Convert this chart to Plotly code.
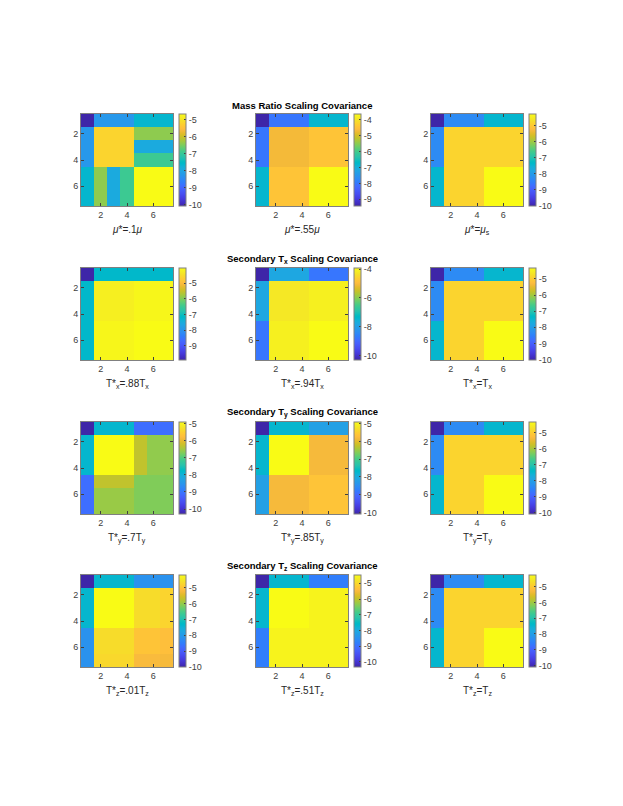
import plotly.graph_objects as go

# log10 covariance matrices, 7x7 state index, one per scaling case
idx = [1, 2, 3, 4, 5, 6, 7]

mu_01 = [
    [-10.06, -8.25, -8.25, -8.25, -7.63, -7.63, -7.63],
    [-8.25, -5.21, -5.21, -5.21, -6.39, -6.39, -6.39],
    [-8.25, -5.21, -5.21, -5.21, -7.90, -7.90, -7.90],
    [-8.25, -5.21, -5.21, -5.21, -6.93, -6.93, -6.93],
    [-7.63, -6.39, -7.90, -6.93, -4.67, -4.67, -4.67],
    [-7.63, -6.39, -7.90, -6.93, -4.67, -4.67, -4.67],
    [-7.63, -6.39, -7.90, -6.93, -4.67, -4.67, -4.67],
]
mu_055 = [
    [-9.42, -8.03, -8.03, -8.03, -6.82, -6.82, -6.82],
    [-8.03, -4.70, -4.70, -4.70, -4.45, -4.45, -4.45],
    [-8.03, -4.70, -4.70, -4.70, -4.45, -4.45, -4.45],
    [-8.03, -4.70, -4.70, -4.70, -4.45, -4.45, -4.45],
    [-6.82, -4.45, -4.45, -4.45, -3.64, -3.64, -3.64],
    [-6.82, -4.45, -4.45, -4.45, -3.64, -3.64, -3.64],
    [-6.82, -4.45, -4.45, -4.45, -3.64, -3.64, -3.64],
]
mu_s = [
    [-10.04, -8.33, -8.33, -8.33, -7.45, -7.45, -7.45],
    [-8.33, -4.87, -4.87, -4.87, -4.87, -4.87, -4.87],
    [-8.33, -4.87, -4.87, -4.87, -4.87, -4.87, -4.87],
    [-8.33, -4.87, -4.87, -4.87, -4.87, -4.87, -4.87],
    [-7.45, -4.87, -4.87, -4.87, -4.29, -4.29, -4.29],
    [-7.45, -4.87, -4.87, -4.87, -4.29, -4.29, -4.29],
    [-7.45, -4.87, -4.87, -4.87, -4.29, -4.29, -4.29],
]
tx_088 = [
    [-9.91, -7.20, -7.20, -7.20, -7.20, -7.20, -7.20],
    [-7.20, -4.20, -4.20, -4.20, -4.10, -4.10, -4.10],
    [-7.20, -4.20, -4.20, -4.20, -4.10, -4.10, -4.10],
    [-7.20, -4.20, -4.20, -4.20, -4.10, -4.10, -4.10],
    [-7.20, -4.10, -4.10, -4.10, -4.02, -4.02, -4.02],
    [-7.20, -4.10, -4.10, -4.10, -4.02, -4.02, -4.02],
    [-7.20, -4.10, -4.10, -4.10, -4.02, -4.02, -4.02],
]
tx_094 = [
    [-10.28, -7.80, -7.80, -7.80, -8.75, -8.75, -8.75],
    [-7.80, -4.25, -4.25, -4.25, -4.12, -4.12, -4.12],
    [-7.80, -4.25, -4.25, -4.25, -4.12, -4.12, -4.12],
    [-7.80, -4.25, -4.25, -4.25, -4.12, -4.12, -4.12],
    [-8.75, -4.12, -4.12, -4.12, -3.93, -3.93, -3.93],
    [-8.75, -4.12, -4.12, -4.12, -3.93, -3.93, -3.93],
    [-8.75, -4.12, -4.12, -4.12, -3.93, -3.93, -3.93],
]
tx_1 = [
    [-10.02, -8.33, -8.33, -8.33, -7.46, -7.46, -7.46],
    [-8.33, -4.90, -4.90, -4.90, -4.90, -4.90, -4.90],
    [-8.33, -4.90, -4.90, -4.90, -4.90, -4.90, -4.90],
    [-8.33, -4.90, -4.90, -4.90, -4.90, -4.90, -4.90],
    [-7.46, -4.90, -4.90, -4.90, -4.33, -4.33, -4.33],
    [-7.46, -4.90, -4.90, -4.90, -4.33, -4.33, -4.33],
    [-7.46, -4.90, -4.90, -4.90, -4.33, -4.33, -4.33],
]
ty_07 = [
    [-10.29, -7.86, -7.86, -7.86, -9.10, -9.10, -9.10],
    [-7.86, -4.90, -4.90, -4.90, -6.30, -6.60, -6.60],
    [-7.86, -4.90, -4.90, -4.90, -6.30, -6.60, -6.60],
    [-7.86, -4.90, -4.90, -4.90, -6.30, -6.60, -6.60],
    [-9.10, -6.30, -6.30, -6.30, -6.70, -6.70, -6.70],
    [-9.10, -6.55, -6.55, -6.55, -6.70, -6.70, -6.70],
    [-9.10, -6.55, -6.55, -6.55, -6.70, -6.70, -6.70],
]
ty_085 = [
    [-10.09, -7.76, -7.76, -7.76, -8.20, -8.20, -8.20],
    [-7.76, -4.91, -4.91, -4.91, -5.84, -5.84, -5.84],
    [-7.76, -4.91, -4.91, -4.91, -5.84, -5.84, -5.84],
    [-7.76, -4.91, -4.91, -4.91, -5.84, -5.84, -5.84],
    [-8.20, -5.84, -5.84, -5.84, -5.64, -5.64, -5.64],
    [-8.20, -5.84, -5.84, -5.84, -5.64, -5.64, -5.64],
    [-8.20, -5.84, -5.84, -5.84, -5.64, -5.64, -5.64],
]
ty_1 = [
    [-10.10, -8.38, -8.38, -8.38, -7.50, -7.50, -7.50],
    [-8.38, -4.91, -4.91, -4.91, -4.91, -4.91, -4.91],
    [-8.38, -4.91, -4.91, -4.91, -4.91, -4.91, -4.91],
    [-8.38, -4.91, -4.91, -4.91, -4.91, -4.91, -4.91],
    [-7.50, -4.91, -4.91, -4.91, -4.33, -4.33, -4.33],
    [-7.50, -4.91, -4.91, -4.91, -4.33, -4.33, -4.33],
    [-7.50, -4.91, -4.91, -4.91, -4.33, -4.33, -4.33],
]
tz_001 = [
    [-10.00, -7.39, -7.39, -7.39, -8.14, -8.14, -8.14],
    [-7.39, -4.20, -4.20, -4.20, -4.66, -4.66, -4.78],
    [-7.39, -4.20, -4.20, -4.20, -4.66, -4.66, -4.78],
    [-7.39, -4.20, -4.20, -4.20, -4.66, -4.66, -4.78],
    [-8.14, -4.66, -4.66, -4.66, -5.01, -5.01, -5.10],
    [-8.14, -4.66, -4.66, -4.66, -5.01, -5.01, -5.10],
    [-8.14, -4.72, -4.72, -4.72, -5.19, -5.19, -5.24],
]
tz_051 = [
    [-10.32, -7.69, -7.69, -7.69, -8.80, -8.80, -8.80],
    [-7.69, -4.47, -4.47, -4.47, -4.59, -4.59, -4.59],
    [-7.69, -4.47, -4.47, -4.47, -4.59, -4.59, -4.59],
    [-7.69, -4.47, -4.47, -4.47, -4.59, -4.59, -4.59],
    [-8.80, -4.59, -4.59, -4.59, -4.59, -4.59, -4.59],
    [-8.80, -4.59, -4.59, -4.59, -4.59, -4.59, -4.59],
    [-8.80, -4.59, -4.59, -4.59, -4.59, -4.59, -4.59],
]
tz_1 = [
    [-10.10, -8.36, -8.36, -8.36, -7.47, -7.47, -7.47],
    [-8.36, -4.84, -4.84, -4.84, -4.84, -4.84, -4.84],
    [-8.36, -4.84, -4.84, -4.84, -4.84, -4.84, -4.84],
    [-8.36, -4.84, -4.84, -4.84, -4.84, -4.84, -4.84],
    [-7.47, -4.84, -4.84, -4.84, -4.26, -4.26, -4.26],
    [-7.47, -4.84, -4.84, -4.84, -4.26, -4.26, -4.26],
    [-7.47, -4.84, -4.84, -4.84, -4.26, -4.26, -4.26],
]

matrices = [mu_01, mu_055, mu_s,
            tx_088, tx_094, tx_1,
            ty_07, ty_085, ty_1,
            tz_001, tz_051, tz_1]

xlabels = ["<i>μ</i>*=.1<i>μ</i>", "<i>μ</i>*=.55<i>μ</i>", "<i>μ</i>*=<i>μ</i><sub>s</sub>",
           "T*<sub>x</sub>=.88T<sub>x</sub>", "T*<sub>x</sub>=.94T<sub>x</sub>", "T*<sub>x</sub>=T<sub>x</sub>",
           "T*<sub>y</sub>=.7T<sub>y</sub>", "T*<sub>y</sub>=.85T<sub>y</sub>", "T*<sub>y</sub>=T<sub>y</sub>",
           "T*<sub>z</sub>=.01T<sub>z</sub>", "T*<sub>z</sub>=.51T<sub>z</sub>", "T*<sub>z</sub>=T<sub>z</sub>"]

row_titles = ["Mass Ratio Scaling Covariance",
              "Secondary T<sub>x</sub> Scaling Covariance",
              "Secondary T<sub>y</sub> Scaling Covariance",
              "Secondary T<sub>z</sub> Scaling Covariance"]

# colorbar tick labels per panel
cbar_ticks = [
    [-10, -9, -8, -7, -6, -5], [-9, -8, -7, -6, -5, -4], [-10, -9, -8, -7, -6, -5],
    [-9, -8, -7, -6, -5], [-10, -8, -6, -4], [-10, -9, -8, -7, -6, -5],
    [-10, -9, -8, -7, -6, -5], [-10, -9, -8, -7, -6, -5], [-10, -9, -8, -7, -6, -5],
    [-10, -9, -8, -7, -6, -5], [-10, -9, -8, -7, -6, -5], [-10, -9, -8, -7, -6, -5],
]
axis_ticks = [2, 4, 6]

# MATLAB parula, 64 entries
parula_rgb = [
    (0.2422, 0.1504, 0.6603), (0.2504, 0.1650, 0.7076), (0.2578, 0.1818, 0.7511), (0.2647, 0.1978, 0.7952),
    (0.2706, 0.2147, 0.8364), (0.2751, 0.2342, 0.8710), (0.2783, 0.2559, 0.8991), (0.2803, 0.2782, 0.9221),
    (0.2813, 0.3006, 0.9414), (0.2810, 0.3228, 0.9579), (0.2795, 0.3447, 0.9717), (0.2760, 0.3667, 0.9829),
    (0.2699, 0.3892, 0.9906), (0.2602, 0.4123, 0.9952), (0.2440, 0.4358, 0.9988), (0.2206, 0.4603, 0.9973),
    (0.1963, 0.4847, 0.9892), (0.1834, 0.5074, 0.9798), (0.1786, 0.5289, 0.9682), (0.1764, 0.5499, 0.9520),
    (0.1687, 0.5703, 0.9359), (0.1540, 0.5902, 0.9218), (0.1460, 0.6091, 0.9079), (0.1380, 0.6276, 0.8973),
    (0.1248, 0.6459, 0.8883), (0.1113, 0.6635, 0.8763), (0.0952, 0.6798, 0.8598), (0.0689, 0.6948, 0.8394),
    (0.0297, 0.7082, 0.8163), (0.0036, 0.7203, 0.7917), (0.0067, 0.7312, 0.7660), (0.0433, 0.7411, 0.7394),
    (0.0964, 0.7500, 0.7120), (0.1408, 0.7584, 0.6842), (0.1717, 0.7670, 0.6554), (0.1938, 0.7758, 0.6251),
    (0.2161, 0.7843, 0.5923), (0.2470, 0.7918, 0.5567), (0.2906, 0.7973, 0.5188), (0.3406, 0.8008, 0.4789),
    (0.3909, 0.8029, 0.4354), (0.4456, 0.8024, 0.3909), (0.5044, 0.7993, 0.3480), (0.5616, 0.7942, 0.3045),
    (0.6174, 0.7876, 0.2612), (0.6720, 0.7793, 0.2227), (0.7242, 0.7698, 0.1910), (0.7738, 0.7598, 0.1646),
    (0.8203, 0.7498, 0.1535), (0.8634, 0.7406, 0.1596), (0.9035, 0.7330, 0.1774), (0.9393, 0.7288, 0.2100),
    (0.9728, 0.7298, 0.2394), (0.9956, 0.7434, 0.2371), (0.9970, 0.7659, 0.2199), (0.9952, 0.7893, 0.2028),
    (0.9892, 0.8136, 0.1885), (0.9786, 0.8386, 0.1766), (0.9676, 0.8639, 0.1643), (0.9610, 0.8890, 0.1537),
    (0.9597, 0.9135, 0.1423), (0.9628, 0.9373, 0.1265), (0.9691, 0.9606, 0.1064), (0.9769, 0.9839, 0.0805),
]
parula = [[i / 63, "rgb(%d,%d,%d)" % tuple(round(c * 255) for c in rgb)]
          for i, rgb in enumerate(parula_rgb)]

# page body has an 8px margin, so the figure is 16px smaller and shifted
OFF = 8
W, H = 623 - 2 * OFF, 806 - 2 * OFF
col_left = [81, 256, 431]       # pixel left edge of each image (in window)
row_top = [114, 268, 422, 575]  # pixel top edge of each image (in window)
SIZE = 92
cbar_gap = 6

def fx(p):
    return (p - OFF) / W

def fy(p):
    return 1 - (p - OFF) / H

grey = "#404040"
fig = go.Figure()
annotations = []
layout_axes = {}

for k, mat in enumerate(matrices):
    r, c = divmod(k, 3)
    n = k + 1
    sfx = "" if n == 1 else str(n)
    x0, y0 = col_left[c], row_top[r]

    fig.add_trace(go.Heatmap(
        z=mat, x=idx, y=idx, colorscale=parula,
        xaxis="x" + sfx, yaxis="y" + sfx,
        colorbar=dict(x=fx(x0 + SIZE + cbar_gap), xanchor="left", xpad=0,
                      y=fy(y0 + SIZE / 2), yanchor="middle", ypad=0,
                      len=SIZE, lenmode="pixels", thickness=7,
                      outlinecolor="#808080", outlinewidth=1,
                      tickvals=cbar_ticks[k], ticktext=[str(t) for t in cbar_ticks[k]],
                      ticks="inside", ticklen=2, tickcolor=grey,
                      tickfont=dict(size=9, color=grey)),
    ))

    common = dict(showline=True, linecolor="#808080", linewidth=1, mirror="ticks",
                  ticks="inside", ticklen=3, tickcolor=grey, showgrid=False, zeroline=False,
                  tickvals=axis_ticks, tickfont=dict(size=9, color=grey), fixedrange=True)
    layout_axes["xaxis" + sfx] = dict(domain=[fx(x0), fx(x0 + SIZE)], anchor="y" + sfx,
                                      range=[0.5, 7.5], **common)
    layout_axes["yaxis" + sfx] = dict(domain=[fy(y0 + SIZE), fy(y0)], anchor="x" + sfx,
                                      range=[7.5, 0.5], **common)

    annotations.append(dict(text=xlabels[k], xref="paper", yref="paper",
                            x=fx(x0 + SIZE / 2), y=fy(y0 + SIZE + 16), xanchor="center", yanchor="top",
                            showarrow=False, font=dict(size=10, color="#262626")))

for r, title in enumerate(row_titles):
    annotations.append(dict(text="<b>" + title + "</b>", xref="paper", yref="paper",
                            x=fx(col_left[1] + SIZE / 2), y=fy(row_top[r] - 1),
                            xanchor="center", yanchor="bottom", showarrow=False,
                            font=dict(size=9.5, color="black")))

fig.update_layout(width=W, height=H, margin=dict(l=0, r=0, t=0, b=0),
                  paper_bgcolor="white", plot_bgcolor="white", showlegend=False,
                  font=dict(family="Liberation Sans, Arial, sans-serif"),
                  annotations=annotations, **layout_axes)

fig.write_html("out.html")
